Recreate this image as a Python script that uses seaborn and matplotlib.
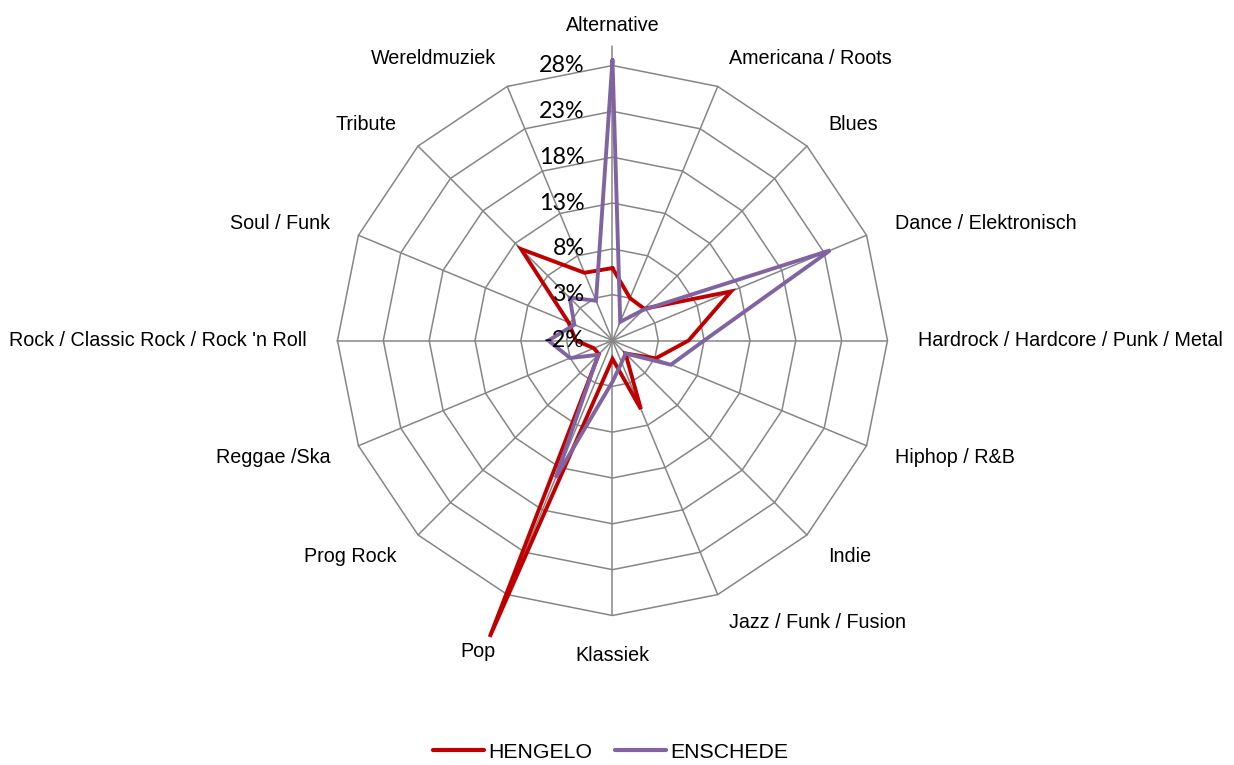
import numpy as np
import pandas as pd
import matplotlib
matplotlib.use("Agg")
import matplotlib.pyplot as plt
from matplotlib.lines import Line2D
import seaborn as sns

# Data (share of visitors per genre, in %)
categories = ['Alternative', 'Americana / Roots', 'Blues', 'Dance / Elektronisch',
              'Hardrock / Hardcore / Punk / Metal', 'Hiphop / R&B', 'Indie',
              'Jazz / Funk / Fusion', 'Klassiek', 'Pop', 'Prog Rock', 'Reggae /Ska',
              "Rock / Classic Rock / Rock 'n Roll", 'Soul / Funk', 'Tribute', 'Wereldmuziek']
hengelo = [5.9, 3.0, 2.9, 12.0, 6.3, 3.1, 0.0, 6.1, 0.0, 33.0, 0.1, 0.2, 2.0, 3.2, 12.1, 6.0]
enschede = [28.6, 0.2, 2.7, 23.7, 8.0, 4.9, 0.0, 0.6, 2.5, 14.2, 0.2, 3.0, 5.0, 2.5, 4.6, 2.7]
series_names = ['HENGELO', 'ENSCHEDE']
ticks = [-2, 3, 8, 13, 18, 23, 28]

colors = {'HENGELO': '#C00000', 'ENSCHEDE': '#8064A2'}
grid_color = '#868686'

sns.set_theme(style='white')
plt.rcParams['font.family'] = ['Liberation Sans', 'DejaVu Sans']
plt.rcParams['text.color'] = 'black'

n = len(categories)
theta = np.linspace(0, 2 * np.pi, n, endpoint=False)

# long table, loop closed by repeating the first point
rows = []
for name, vals in zip(series_names, [hengelo, enschede]):
    for th, v in zip(list(theta) + [2 * np.pi], vals + vals[:1]):
        rows.append({'theta': th, 'value': v, 'city': name})
df = pd.DataFrame(rows)

fig = plt.figure(figsize=(12.34, 7.65), dpi=100)
ax = fig.add_axes([0.2735, 0.1954, 0.4457, 0.719], projection='polar')
ax.set_theta_zero_location('N')
ax.set_theta_direction(-1)
ax.grid(False)
ax.spines['polar'].set_visible(False)
ax.set_xticks([])
ax.set_yticks([])

# polygon grid like Excel
ring_theta = np.append(theta, 2 * np.pi)
for t in ticks[1:]:
    ax.plot(ring_theta, [t] * (n + 1), color=grid_color, lw=1.1, zorder=1)
for i, th in enumerate(theta):
    top = 30.1 if i == 0 else ticks[-1]
    ax.plot([th, th], [ticks[0], top], color=grid_color, lw=1.1, zorder=1, clip_on=False)

sns.lineplot(data=df, x='theta', y='value', hue='city', hue_order=series_names,
             palette=colors, sort=False, estimator=None, legend=False,
             linewidth=2.8, ax=ax, zorder=3)
for line in ax.lines:
    line.set_clip_on(False)
    line.set_solid_joinstyle('miter')

ax.set_ylim(ticks[0], ticks[-1])
ax.set_xlabel('')
ax.set_ylabel('')

# category labels
label_offsets = {'Pop': (0, -21)}
for th, cat in zip(theta, categories):
    deg = np.degrees(th)
    if np.isclose(deg, 0):
        ha, va = 'center', 'bottom'
    elif np.isclose(deg, 180):
        ha, va = 'center', 'top'
    elif deg < 180:
        ha, va = 'left', 'center'
    else:
        ha, va = 'right', 'center'
    ax.annotate(cat, xy=(th, 31.3), xytext=label_offsets.get(cat, (0, 0)),
                textcoords='offset points', ha=ha, va=va, fontsize=14.2,
                color='black', annotation_clip=False)

# value axis labels
for t in ticks:
    ax.annotate(f'{t}%', xy=(0, t), xytext=(-20, 0), textcoords='offset points',
                ha='right', va='center', fontsize=16.8, family=['Lato', 'DejaVu Sans'],
                color='black', zorder=5, annotation_clip=False)

handles = [Line2D([], [], color=colors[s], lw=3.0) for s in series_names]
fig.legend(handles, series_names, loc='center', bbox_to_anchor=(0.4947, 1 - 752 / 765),
           ncol=2, frameon=False, fontsize=15.3, handlelength=2.4,
           handletextpad=0.2, columnspacing=1.1, labelcolor='black')

fig.savefig('out.png', dpi=100)
